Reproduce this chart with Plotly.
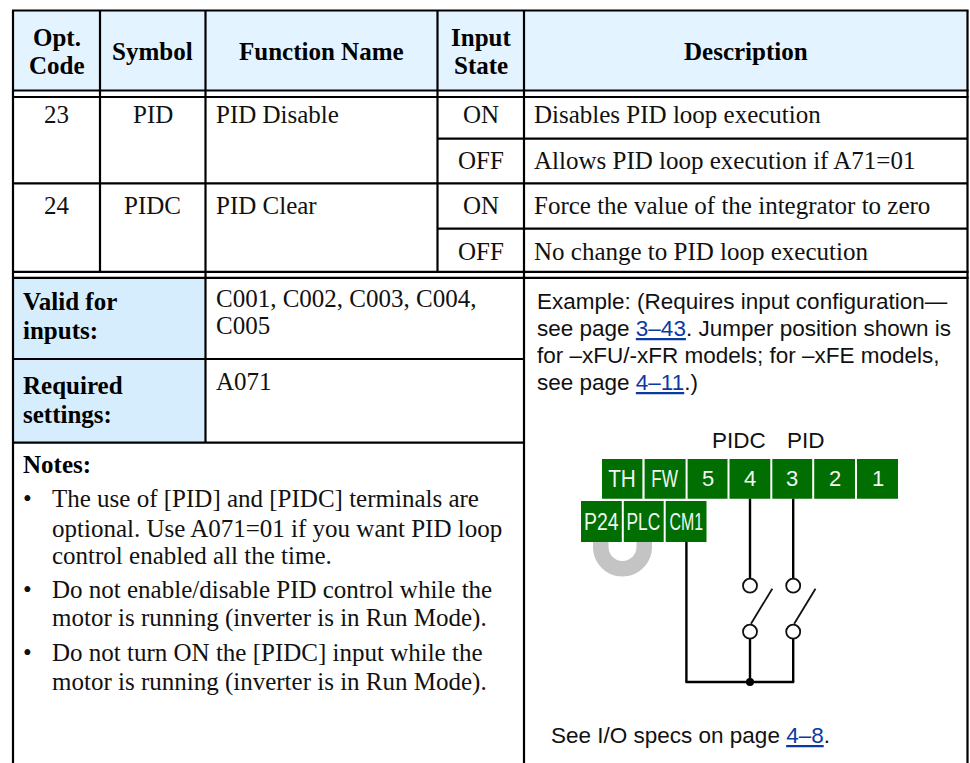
import plotly.graph_objects as go

# ---------- table content ----------
header_labels = [["Opt.", "Code"], ["Symbol"], ["Function Name"], ["Input", "State"], ["Description"]]
opt_codes = ["23", "24"]
symbols = ["PID", "PIDC"]
function_names = ["PID Disable", "PID Clear"]
input_states = ["ON", "OFF", "ON", "OFF"]
descriptions = [
    "Disables PID loop execution",
    "Allows PID loop execution if A71=01",
    "Force the value of the integrator to zero",
    "No change to PID loop execution",
]
valid_label = ["Valid for", "inputs:"]
valid_values = ["C001, C002, C003, C004,", "C005"]
required_label = ["Required", "settings:"]
required_values = ["A071"]
notes_title = "Notes:"
notes_lines = [
    ["The use of [PID] and [PIDC] terminals are", "optional. Use A071=01 if you want PID loop", "control enabled all the time."],
    ["Do not enable/disable PID control while the", "motor is running (inverter is in Run Mode)."],
    ["Do not turn ON the [PIDC] input while the", "motor is running (inverter is in Run Mode)."],
]
LINK = '<span style="color:#0a3aa0"><u>%s</u></span>'
example_lines = [
    "Example: (Requires input configuration\u2014",
    "see page " + LINK % "3\u201343" + ". Jumper position shown is",
    "for \u2013xFU/-xFR models; for \u2013xFE models,",
    "see page " + LINK % "4\u201311" + ".)",
]
footer_line = "See I/O specs on page " + LINK % "4\u20138" + "."
top_terminals = ["TH", "FW", "5", "4", "3", "2", "1"]
bottom_terminals = ["P24", "PLC", "CM1"]
switch_labels = ["PIDC", "PID"]

# ---------- geometry (page pixels) ----------
W, H = 970, 763
col_x = [13, 100, 205.5, 437.5, 524, 967.5]
head_top, head_bot, head_bot2 = 10.5, 90.5, 97
row_lines = [138.7, 183.3, 228.7]
sec_top, sec_top2 = 271.8, 277.8
valid_bot, req_bot = 359, 442.7
row_y = [114.6, 160.6, 205.6, 251.6]
top_term_x = [(602, 642.4), (644.6, 685.6), (687.6, 727.5), (729.5, 770.3), (772.3, 812.2), (814.2, 855), (857, 898)]
bot_term_x = [(581, 621.8), (623.8, 663.7), (665.7, 706.5)]
top_term_y = (459, 498.7)
bot_term_y = (501, 542)
wire_x = [750, 793.2]
cm1_x = 686.4
bus_y = 682
up_y, low_y, rad = 585.7, 631.7, 7

SERIF = "Liberation Serif"
SANS = "Liberation Sans"
INK = "#111111"
HEAD_BG = "#e3f3ff"
SIDE_BG = "#d6edfe"
GREEN = "#006e00"
GREY = "#c4c4c4"
BODY = 25
EX = 22.5

fig = go.Figure()
shapes, notes = [], []


def line(x0, y0, x1, y1, w=2.2, color="black"):
    shapes.append(dict(type="line", x0=x0, y0=y0, x1=x1, y1=y1, xref="x", yref="y",
                       line=dict(color=color, width=w)))


def rect(x0, y0, x1, y1, fill):
    shapes.append(dict(type="rect", x0=x0, y0=y0, x1=x1, y1=y1, xref="x", yref="y",
                       fillcolor=fill, line=dict(width=0)))


def text(x, y, s, size=BODY, font=SERIF, anchor="left", color=INK, bold=False):
    notes.append(dict(x=x, y=y, xref="x", yref="y", text=f"<b>{s}</b>" if bold else s,
                      showarrow=False, xanchor=anchor, yanchor="middle", align=anchor,
                      borderpad=0, borderwidth=0,
                      font=dict(family=font, size=size, color=color)))


# backgrounds
rect(col_x[0], head_top, col_x[5], head_bot, HEAD_BG)
rect(col_x[0], sec_top2, col_x[2], req_bot, SIDE_BG)

# horizontal rules
for y in (head_top, head_bot, head_bot2, sec_top, sec_top2):
    line(col_x[0] - 1, y, col_x[5] + 1, y)
line(col_x[0], row_lines[1], col_x[5], row_lines[1])
for y in (row_lines[0], row_lines[2]):
    line(col_x[3], y, col_x[5], y)
line(col_x[0], valid_bot, col_x[4], valid_bot)
line(col_x[0], req_bot, col_x[4], req_bot)

# vertical rules
line(col_x[0], head_top, col_x[0], H)
line(col_x[5], head_top, col_x[5], H)
line(col_x[4], head_top, col_x[4], H)
for x in col_x[1:4:2]:
    line(x, head_top, x, sec_top)
line(col_x[2], head_top, col_x[2], req_bot)

# header
centers = [(col_x[i] + col_x[i + 1]) / 2 for i in range(5)]
for cx, lab in zip(centers, header_labels):
    ys = [37, 65] if len(lab) == 2 else [51]
    for y, s in zip(ys, lab):
        text(cx, y, s, anchor="center", bold=True, color="#000000")

# body rows
for i in range(2):
    text(centers[0], row_y[2 * i], opt_codes[i], anchor="center")
    text(centers[1], row_y[2 * i], symbols[i], anchor="center")
    text(col_x[2] + 10.5, row_y[2 * i], function_names[i])
for y, st, d in zip(row_y, input_states, descriptions):
    text(centers[3], y, st, anchor="center")
    text(col_x[4] + 10, y, d)

# lower-left section
for y, s in zip([301.5, 330], valid_label):
    text(23, y, s, bold=True, color="#000000")
for y, s in zip([298, 325], valid_values):
    text(216, y, s)
for y, s in zip([385, 414], required_label):
    text(23, y, s, bold=True, color="#000000")
text(216, 381, required_values[0])
text(23, 464, notes_title, bold=True, color="#000000")
note_y = [[498, 528, 555], [589, 618], [652, 682]]
for ys, lines in zip(note_y, notes_lines):
    text(23, ys[0], "\u2022")
    for y, s in zip(ys, lines):
        text(52, y, s)

# example text
for y, s in zip([301, 328, 355, 382], example_lines):
    text(537, y, s, EX, SANS)
text(551, 735, footer_line, EX, SANS)

# jumper (U shape) under P24/PLC
cx, cy, ro, ri = 622.5, 547, 29.5, 14
k = 0.5523
shapes.append(dict(
    type="path", xref="x", yref="y", fillcolor=GREY, line=dict(width=0),
    path=(f"M {cx-ro} {cy-6} L {cx-ro} {cy} "
          f"C {cx-ro} {cy+k*ro} {cx-k*ro} {cy+ro} {cx} {cy+ro} "
          f"C {cx+k*ro} {cy+ro} {cx+ro} {cy+k*ro} {cx+ro} {cy} "
          f"L {cx+ro} {cy-6} L {cx+ri} {cy-6} L {cx+ri} {cy} "
          f"C {cx+ri} {cy+k*ri} {cx+k*ri} {cy+ri} {cx} {cy+ri} "
          f"C {cx-k*ri} {cy+ri} {cx-ri} {cy+k*ri} {cx-ri} {cy} "
          f"L {cx-ri} {cy-6} Z")))

# terminals
for (x0, x1), lab in zip(top_term_x, top_terminals):
    rect(x0, top_term_y[0], x1, top_term_y[1], GREEN)
    text((x0 + x1) / 2, sum(top_term_y) / 2, lab, 24 if len(lab) > 1 else 22, SANS, "center", "#f2f7f2")
for (x0, x1), lab in zip(bot_term_x, bottom_terminals):
    rect(x0, bot_term_y[0], x1, bot_term_y[1], GREEN)
    text((x0 + x1) / 2, sum(bot_term_y) / 2, lab, 24, SANS, "center", "#f2f7f2")
for x, s in zip([738.5, 805.5], switch_labels):
    text(x, 440, s, 22.5, SANS, "center")

# wiring
line(cm1_x, bot_term_y[1], cm1_x, bus_y, 2.4)
line(cm1_x - 1, bus_y, wire_x[1] + 1, bus_y, 2.4)
for x in wire_x:
    line(x, top_term_y[1], x, up_y - rad, 2.4)
    line(x, low_y + rad, x, bus_y, 2.4)
    for cy_ in (up_y, low_y):
        shapes.append(dict(type="circle", xref="x", yref="y", x0=x - rad, x1=x + rad,
                           y0=cy_ - rad, y1=cy_ + rad, fillcolor="white",
                           line=dict(color="#111111", width=1.8)))
    line(x + 1, low_y - 8, x + 22.3, up_y + 3, 1.8, "#111111")
shapes.append(dict(type="circle", xref="x", yref="y", x0=wire_x[0] - 4, x1=wire_x[0] + 4,
                   y0=bus_y - 4, y1=bus_y + 4, fillcolor="black", line=dict(width=0)))

fig.update_layout(
    width=W, height=H, margin=dict(l=0, r=0, t=0, b=0),
    paper_bgcolor="white", plot_bgcolor="white", showlegend=False,
    xaxis=dict(range=[0, W], visible=False, fixedrange=True),
    yaxis=dict(range=[H, 0], visible=False, fixedrange=True),
    shapes=shapes, annotations=notes,
)
# The terminal labels in the reference are set in a condensed face; squeeze the glyphs to suit.
post = """
document.body.style.margin='0';document.body.style.overflow='hidden';
var squeeze={'TH':27.7,'FW':26.7,'P24':34.5,'PLC':33.6,'CM1':33.6};
function applySqueeze(){document.querySelectorAll('.annotation-text').forEach(function(t){
  var w=squeeze[t.textContent];
  if(w){t.setAttribute('textLength',w);t.setAttribute('lengthAdjust','spacingAndGlyphs');}
});}
applySqueeze();setTimeout(applySqueeze,0);setTimeout(applySqueeze,200);
"""
fig.write_html("out.html", config={"displayModeBar": False}, post_script=post)
